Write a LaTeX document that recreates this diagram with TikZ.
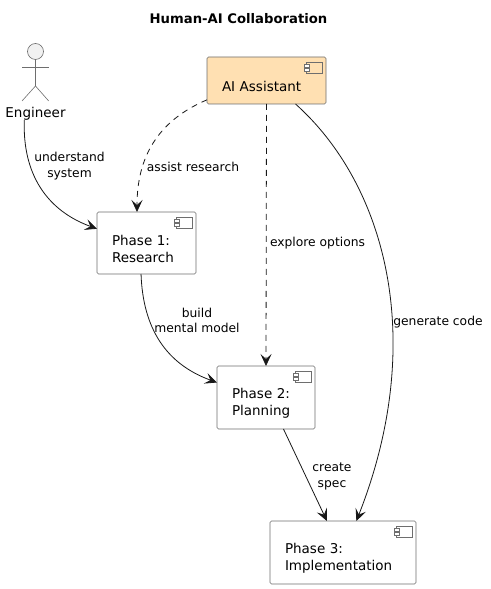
\documentclass[tikz,border=0pt]{standalone}
\usepackage{fontspec}
\setmainfont{DejaVu Sans}
\usepackage{xcolor}
\usetikzlibrary{arrows.meta,calc,positioning}
\definecolor{linedark}{HTML}{181818}
\definecolor{boxgray}{HTML}{6E6E6E}
\definecolor{softorange}{HTML}{FFE0B2}
\definecolor{actorfill}{HTML}{F1F1F1}
\tikzset{
  flow/.style={-{Stealth[length=12pt,width=11pt,inset=5pt]},linedark,line width=0.8pt},
  dashflow/.style={flow,dash pattern=on 6pt off 5pt},
  compbox/.style={draw=boxgray,fill=white,rounded corners=1.5pt,line width=0.6pt,outer sep=0pt,align=left,inner xsep=15pt,inner ysep=0pt,font=\fontsize{13.5}{17}\selectfont,execute at begin node={\rule{0pt}{22pt}}},
  compicon/.style={draw=boxgray,line width=0.5pt},
  actorline/.style={draw=boxgray,line width=0.6pt},
  edgelabel/.style={align=center,inner sep=0pt,font=\fontsize{12.3}{15.5}\selectfont,text=black}
}
\begin{document}
\begin{tikzpicture}[x=1pt,y=1pt]
\useasboundingbox (0,0) rectangle (490,589);
\node[font=\bfseries\fontsize{13.2}{15}\selectfont,inner sep=0pt] (title) at (238.5,570) {Human-AI Collaboration};
% components
\node[compbox,fill=softorange,text width=89pt,minimum height=47pt] (ai) at (266.5,508.5) {AI Assistant};
\node[compbox,text width=69pt,minimum height=62pt] (phasea) at (146.5,346) {Phase 1:\\Research};
\node[compbox,text width=68pt,minimum height=63pt] (phaseb) at (266,191.5) {Phase 2:\\Planning};
\node[compbox,text width=116pt,minimum height=63pt] (phasec) at (343,36.5) {Phase 3:\\Implementation};
\foreach \n in {ai,phasea,phaseb,phasec}{\draw[compicon] ($(\n.north east)+(-20,-5)$) rectangle ++(16,-11);\draw[compicon,fill=white] ($(\n.north east)+(-22,-7.5)$) rectangle ++(5,-2.5);\draw[compicon,fill=white] ($(\n.north east)+(-22,-11.5)$) rectangle ++(5,-2.5);}
% actor
\node[circle,actorline,fill=actorfill,minimum size=16pt,inner sep=0pt,outer sep=0pt] (enghead) at (35.5,537.5) {};
\coordinate (enghip) at (35.5,503);
\draw[actorline] (enghead.south) -- (enghip);
\draw[actorline] (22,522) -- (48.7,522);
\draw[actorline] (22,488) -- (enghip) -- (48.7,488);
\node[font=\fontsize{13.5}{16}\selectfont,inner sep=0pt] (engineer) at (35.5,475.5) {Engineer};
% connectors
\draw[flow] (engineer.-149) to[out=-92,in=160,looseness=1.05] (phasea.164);
\draw[dashflow] (ai.198) to[out=203,in=90,looseness=1.05] (phasea.north -| 137,0);
\draw[dashflow] (ai.south) -- (phaseb.north);
\draw[flow] (ai.-39.5) .. controls (385,405) and (428,250) .. (phasec.67.6);
\draw[flow] (phasea.-100) to[out=-88,in=160,looseness=1.05] (phaseb.163.5);
\draw[flow] (phaseb.-61.8) -- (phasec.117);
% labels
\node[edgelabel] (lblunderstand) at (69.5,423) {understand\\system};
\node[edgelabel] (lblassist) at (193,422.5) {assist research};
\node[edgelabel] (lblexplore) at (317.5,345.5) {explore options};
\node[edgelabel] (lblbuild) at (197,268.5) {build\\mental model};
\node[edgelabel] (lblgenerate) at (438,267) {generate code};
\node[edgelabel] (lblcreate) at (332,112.5) {create\\spec};
\end{tikzpicture}
\end{document}
